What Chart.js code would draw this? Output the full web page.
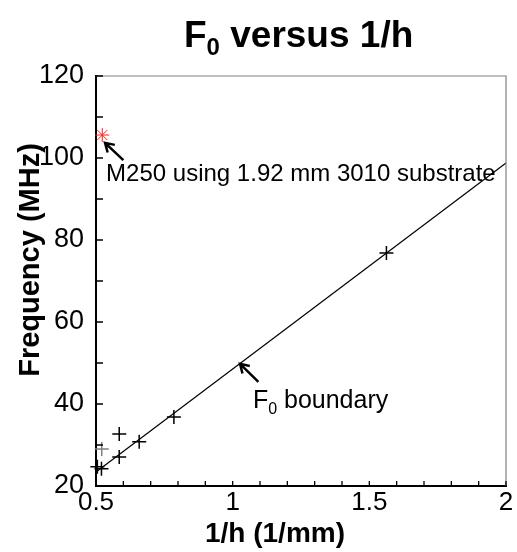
<!DOCTYPE html>
<html>
<head>
<meta charset="utf-8">
<script src="https://cdn.jsdelivr.net/npm/chart.js@4.4.0/dist/chart.umd.min.js"></script>
<style>
html, body { margin: 0; padding: 0; background: #fff; }
canvas { display: block; }
</style>
</head>
<body>
<canvas id="f0" width="517" height="552"></canvas>
<script>
// tick labels
const xTicks = [0.5, 1, 1.5, 2];
const yTicks = [20, 40, 60, 80, 100, 120];

// measured F0 points (1/h in 1/mm, F in MHz)
const measX = [0.505, 0.52, 0.585, 0.585, 0.658, 0.785, 1.5625];
const measY = [24.7, 24.2, 27.1, 32.7, 30.8, 36.8, 76.8];
// lighter point
const grayX = [0.521];
const grayY = [29.0];
// M250 point
const m250X = [0.523];
const m250Y = [105.6];
// F0 boundary line
const fitX = [0.5, 2];
const fitY = [23.4, 98.8];

const FONT = "'Liberation Sans', Arial, sans-serif";
const pts = (xs, ys) => xs.map((x, i) => ({ x: x, y: ys[i] }));

function arrow(ctx, x1, y1, x2, y2) {
    // from tail (x1,y1) to tip (x2,y2)
    const ang = Math.atan2(y2 - y1, x2 - x1);
    const h = 10;
    ctx.beginPath();
    ctx.moveTo(x1, y1);
    ctx.lineTo(x2, y2);
    ctx.moveTo(x2 - h * Math.cos(ang - 0.55), y2 - h * Math.sin(ang - 0.55));
    ctx.lineTo(x2, y2);
    ctx.lineTo(x2 - h * Math.cos(ang + 0.55), y2 - h * Math.sin(ang + 0.55));
    ctx.stroke();
}

function subText(ctx, x, y, main, sub, rest, size, weight) {
    ctx.font = weight + ' ' + size + 'px ' + FONT;
    ctx.fillText(main, x, y);
    x += ctx.measureText(main).width;
    ctx.font = weight + ' ' + Math.round(size * 0.65) + 'px ' + FONT;
    ctx.fillText(sub, x, y + size * 0.22);
    x += ctx.measureText(sub).width;
    ctx.font = weight + ' ' + size + 'px ' + FONT;
    ctx.fillText(rest, x, y);
}

const decor = {
    id: 'decor',
    afterDraw(chart) {
        const ctx = chart.ctx;
        const xs = chart.scales.x, ys = chart.scales.y;
        const a = chart.chartArea;
        ctx.save();
        // top and right frame
        ctx.strokeStyle = '#808080';
        ctx.lineWidth = 1.2;
        ctx.beginPath();
        ctx.moveTo(a.left, a.top);
        ctx.lineTo(a.right, a.top);
        ctx.lineTo(a.right, a.bottom);
        ctx.stroke();
        // inward ticks
        ctx.strokeStyle = '#000';
        ctx.lineWidth = 1.3;
        ctx.beginPath();
        for (let i = 0; i <= 15; i++) {
            const px = xs.getPixelForValue(0.5 + i * 0.1);
            ctx.moveTo(px, a.bottom);
            ctx.lineTo(px, a.bottom - 5);
        }
        for (let i = 0; i <= 10; i++) {
            const py = ys.getPixelForValue(20 + i * 10);
            ctx.moveTo(a.left, py);
            ctx.lineTo(a.left + 7, py);
        }
        ctx.stroke();

        // title
        ctx.fillStyle = '#000';
        ctx.textBaseline = 'alphabetic';
        ctx.textAlign = 'left';
        subText(ctx, 184, 47, 'F', '0', ' versus 1/h', 37, 'bold');

        // axis titles
        ctx.font = 'bold 28px ' + FONT;
        ctx.textAlign = 'center';
        ctx.fillText('1/h (1/mm)', 275, 542);
        ctx.save();
        ctx.translate(39, 260);
        ctx.rotate(-Math.PI / 2);
        ctx.font = 'bold 29px ' + FONT;
        ctx.fillText('Frequency (MHz)', 0, 0);
        ctx.restore();

        // annotations
        ctx.textAlign = 'left';
        ctx.lineWidth = 2.5;
        arrow(ctx, xs.getPixelForValue(0.600), ys.getPixelForValue(99.5),
              xs.getPixelForValue(0.533), ys.getPixelForValue(103.7));
        arrow(ctx, xs.getPixelForValue(1.094), ys.getPixelForValue(45.4),
              xs.getPixelForValue(1.027), ys.getPixelForValue(49.8));
        ctx.font = '24px ' + FONT;
        ctx.fillText('M250 using 1.92 mm 3010 substrate', xs.getPixelForValue(0.537), 181);
        subText(ctx, xs.getPixelForValue(1.074), 408, 'F', '0', ' boundary', 25, 'normal');
        ctx.restore();
    }
};

new Chart(document.getElementById('f0'), {
    type: 'scatter',
    data: {
        datasets: [
            {
                type: 'line',
                data: pts(fitX, fitY),
                borderColor: '#000',
                borderWidth: 1.2,
                pointRadius: 0,
                fill: false,
                clip: false
            },
            {
                data: pts(measX, measY),
                pointStyle: 'cross',
                pointRadius: 7,
                borderColor: '#000',
                borderWidth: 1.5,
                clip: false
            },
            {
                data: pts(grayX, grayY),
                pointStyle: 'cross',
                pointRadius: 7,
                borderColor: '#808080',
                borderWidth: 1.5,
                clip: false
            },
            {
                data: pts(m250X, m250Y),
                pointStyle: 'star',
                pointRadius: 7,
                borderColor: '#ff2020',
                borderWidth: 1,
                clip: false
            }
        ]
    },
    options: {
        responsive: false,
        animation: false,
        layout: { padding: { top: 76, right: 11, left: 0, bottom: 0 } },
        plugins: { legend: { display: false }, tooltip: { enabled: false } },
        scales: {
            x: {
                type: 'linear',
                min: 0.5,
                max: 2,
                afterBuildTicks: (s) => { s.ticks = xTicks.map(v => ({ value: v })); },
                afterFit: (s) => { s.height = 66; },
                grid: { display: false, drawTicks: false },
                border: { display: true, color: '#000', width: 2 },
                ticks: {
                    color: '#000',
                    padding: 1,
                    maxRotation: 0,
                    font: { family: FONT, size: 26 },
                    callback: (v) => v
                }
            },
            y: {
                type: 'linear',
                min: 20,
                max: 120,
                afterBuildTicks: (s) => { s.ticks = yTicks.map(v => ({ value: v })); },
                afterFit: (s) => { s.width = 96; },
                grid: { display: false, drawTicks: false },
                border: { display: true, color: '#000', width: 2 },
                ticks: {
                    color: '#000',
                    padding: 12,
                    font: { family: FONT, size: 27 }
                }
            }
        }
    },
    plugins: [decor]
});
</script>
</body>
</html>
